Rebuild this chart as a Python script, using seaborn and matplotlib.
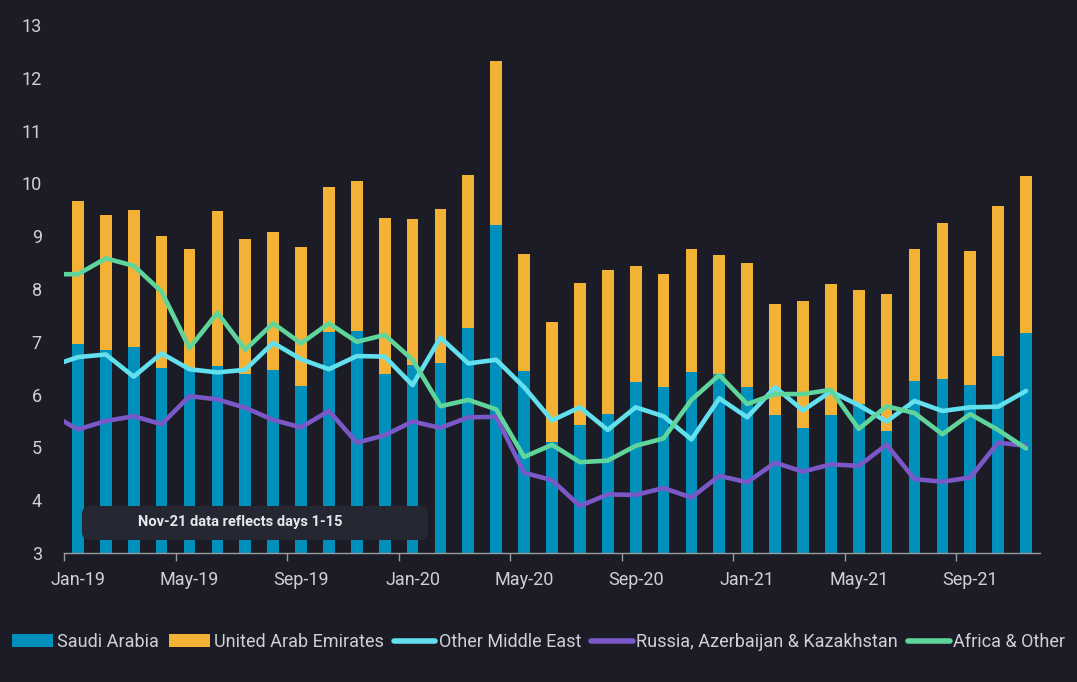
import numpy as np
import pandas as pd
import matplotlib
matplotlib.use("Agg")
import matplotlib.pyplot as plt
import seaborn as sns
from matplotlib.patches import FancyBboxPatch, Patch
from matplotlib.lines import Line2D
from matplotlib.transforms import IdentityTransform

# ---------------- data ----------------
months = ["Jan-19", "Feb-19", "Mar-19", "Apr-19", "May-19", "Jun-19", "Jul-19", "Aug-19",
          "Sep-19", "Oct-19", "Nov-19", "Dec-19", "Jan-20", "Feb-20", "Mar-20", "Apr-20",
          "May-20", "Jun-20", "Jul-20", "Aug-20", "Sep-20", "Oct-20", "Nov-20", "Dec-20",
          "Jan-21", "Feb-21", "Mar-21", "Apr-21", "May-21", "Jun-21", "Jul-21", "Aug-21",
          "Sep-21", "Oct-21", "Nov-21"]
line_months = ["Dec-18"] + months

saudi = [6.96, 6.84, 6.90, 6.50, 6.50, 6.54, 6.39, 6.47, 6.16, 7.19, 7.20, 6.39,
         6.56, 6.60, 7.26, 9.21, 6.45, 5.10, 5.42, 5.63, 6.24, 6.14, 6.43, 6.39,
         6.14, 5.61, 5.37, 5.61, 5.82, 5.31, 6.26, 6.30, 6.18, 6.73, 7.17]
uae = [2.71, 2.56, 2.60, 2.50, 2.26, 2.94, 2.56, 2.61, 2.64, 2.74, 2.85, 2.95,
       2.77, 2.92, 2.90, 3.11, 2.21, 2.28, 2.69, 2.73, 2.20, 2.14, 2.33, 2.25,
       2.35, 2.11, 2.40, 2.48, 2.16, 2.60, 2.50, 2.95, 2.54, 2.84, 2.97]
other_me = [6.53, 6.71, 6.76, 6.34, 6.78, 6.48, 6.42, 6.47, 6.98, 6.67, 6.48, 6.73,
            6.72, 6.18, 7.08, 6.59, 6.66, 6.14, 5.51, 5.76, 5.33, 5.76, 5.59, 5.15,
            5.93, 5.57, 6.14, 5.70, 6.06, 5.80, 5.49, 5.88, 5.69, 5.76, 5.77, 6.07]
russia = [5.64, 5.34, 5.50, 5.59, 5.44, 5.97, 5.91, 5.75, 5.52, 5.38, 5.69, 5.09,
          5.23, 5.49, 5.37, 5.57, 5.58, 4.52, 4.38, 3.89, 4.11, 4.10, 4.23, 4.05,
          4.46, 4.34, 4.71, 4.54, 4.68, 4.65, 5.05, 4.40, 4.35, 4.43, 5.09, 5.03]
africa = [8.28, 8.28, 8.58, 8.44, 7.95, 6.88, 7.55, 6.85, 7.35, 6.97, 7.35, 7.00,
          7.13, 6.66, 5.78, 5.90, 5.72, 4.82, 5.05, 4.72, 4.75, 5.03, 5.17, 5.90,
          6.37, 5.82, 6.01, 6.01, 6.09, 5.35, 5.78, 5.65, 5.25, 5.63, 5.33, 4.98]

tick_labels = ["Jan-19", "May-19", "Sep-19", "Jan-20", "May-20", "Sep-20",
               "Jan-21", "May-21", "Sep-21"]
y_ticks = [3, 4, 5, 6, 7, 8, 9, 10, 11, 12, 13]
series_names = ["Saudi Arabia", "United Arab Emirates", "Other Middle East",
                "Russia, Azerbaijan & Kazakhstan", "Africa & Other"]
note = "Nov-21 data reflects days 1-15"

# ---------------- style ----------------
BG = "#1b1c25"
C_SA = "#0090bb"
C_UAE = "#f3b236"
C_OME = "#62e0ee"
C_RU = "#7a58c8"
C_AF = "#5fd59b"
TXT = "#cfd0d6"
AXC = "#9a9ca4"

sns.set_theme(style="dark")
plt.rcParams["font.family"] = ["Roboto", "DejaVu Sans"]

fig = plt.figure(figsize=(10.77, 6.82), dpi=100, facecolor=BG)
ax = fig.add_axes([64 / 1077, 1 - 553 / 682, 976 / 1077, 528 / 682])
ax.set_facecolor(BG)

df = pd.DataFrame({"month": months, "saudi": saudi, "uae": uae})
df["total"] = df["saudi"] + df["uae"]

sns.barplot(data=df, x="month", y="total", order=months, color=C_UAE,
            saturation=1, width=0.42, linewidth=0, ax=ax)
sns.barplot(data=df, x="month", y="saudi", order=months, color=C_SA,
            saturation=1, width=0.42, linewidth=0, ax=ax)

ld = pd.DataFrame({"pos": np.arange(-1, len(months)), "month": line_months,
                   "other": other_me, "russia": russia, "africa": africa})
for col, c in [("other", C_OME), ("russia", C_RU), ("africa", C_AF)]:
    sns.lineplot(data=ld, x="pos", y=col, color=c, linewidth=3.3, ax=ax,
                 solid_capstyle="round", solid_joinstyle="round", zorder=3)

ax.set_xlim(-0.5, len(months) - 0.5)
ax.set_ylim(3, 13)
ax.set_xlabel("")
ax.set_ylabel("")

tick_pos = np.arange(0, len(months), 4)
ax.set_xticks(tick_pos - 0.5)
ax.set_xticklabels([])
ax.set_xticks(tick_pos, labels=tick_labels, minor=True)
ax.tick_params(axis="x", which="major", length=6, width=1, color=AXC, direction="out",
               bottom=True)
ax.tick_params(axis="x", which="minor", length=0, pad=13, labelsize=13, labelcolor=TXT)
ax.set_yticks(y_ticks)
ax.set_yticklabels([str(v) for v in y_ticks])
ax.tick_params(axis="y", length=0, pad=16, labelsize=13, labelcolor=TXT)

ax.grid(False)
for s in ["top", "right", "left"]:
    ax.spines[s].set_visible(False)
ax.spines["bottom"].set_color(AXC)
ax.spines["bottom"].set_linewidth(1)

# note box (pixel coordinates)
box = FancyBboxPatch((82, 682 - 540), 346, 34, boxstyle="round,pad=0,rounding_size=8",
                     transform=IdentityTransform(), facecolor="#252733",
                     edgecolor="none", zorder=5)
fig.patches.append(box)
fig.text(240 / 1077, 1 - 522 / 682, note, ha="center", va="center", color="#e8e8ec",
         fontsize=10.5, fontweight="bold", zorder=6)

handles = [Patch(facecolor=C_SA, edgecolor="none"),
           Patch(facecolor=C_UAE, edgecolor="none"),
           Line2D([], [], color=C_OME, lw=4, solid_capstyle="round"),
           Line2D([], [], color=C_RU, lw=4, solid_capstyle="round"),
           Line2D([], [], color=C_AF, lw=4, solid_capstyle="round")]
leg = fig.legend(handles, series_names, loc="center", bbox_to_anchor=(0.5, 1 - 642 / 682),
                 ncol=5, frameon=False, fontsize=13, handlelength=2.3,
                 handletextpad=0.2, columnspacing=0.55, borderaxespad=0)
for t in leg.get_texts():
    t.set_color(TXT)

fig.savefig("out.png", dpi=100, facecolor=BG)
